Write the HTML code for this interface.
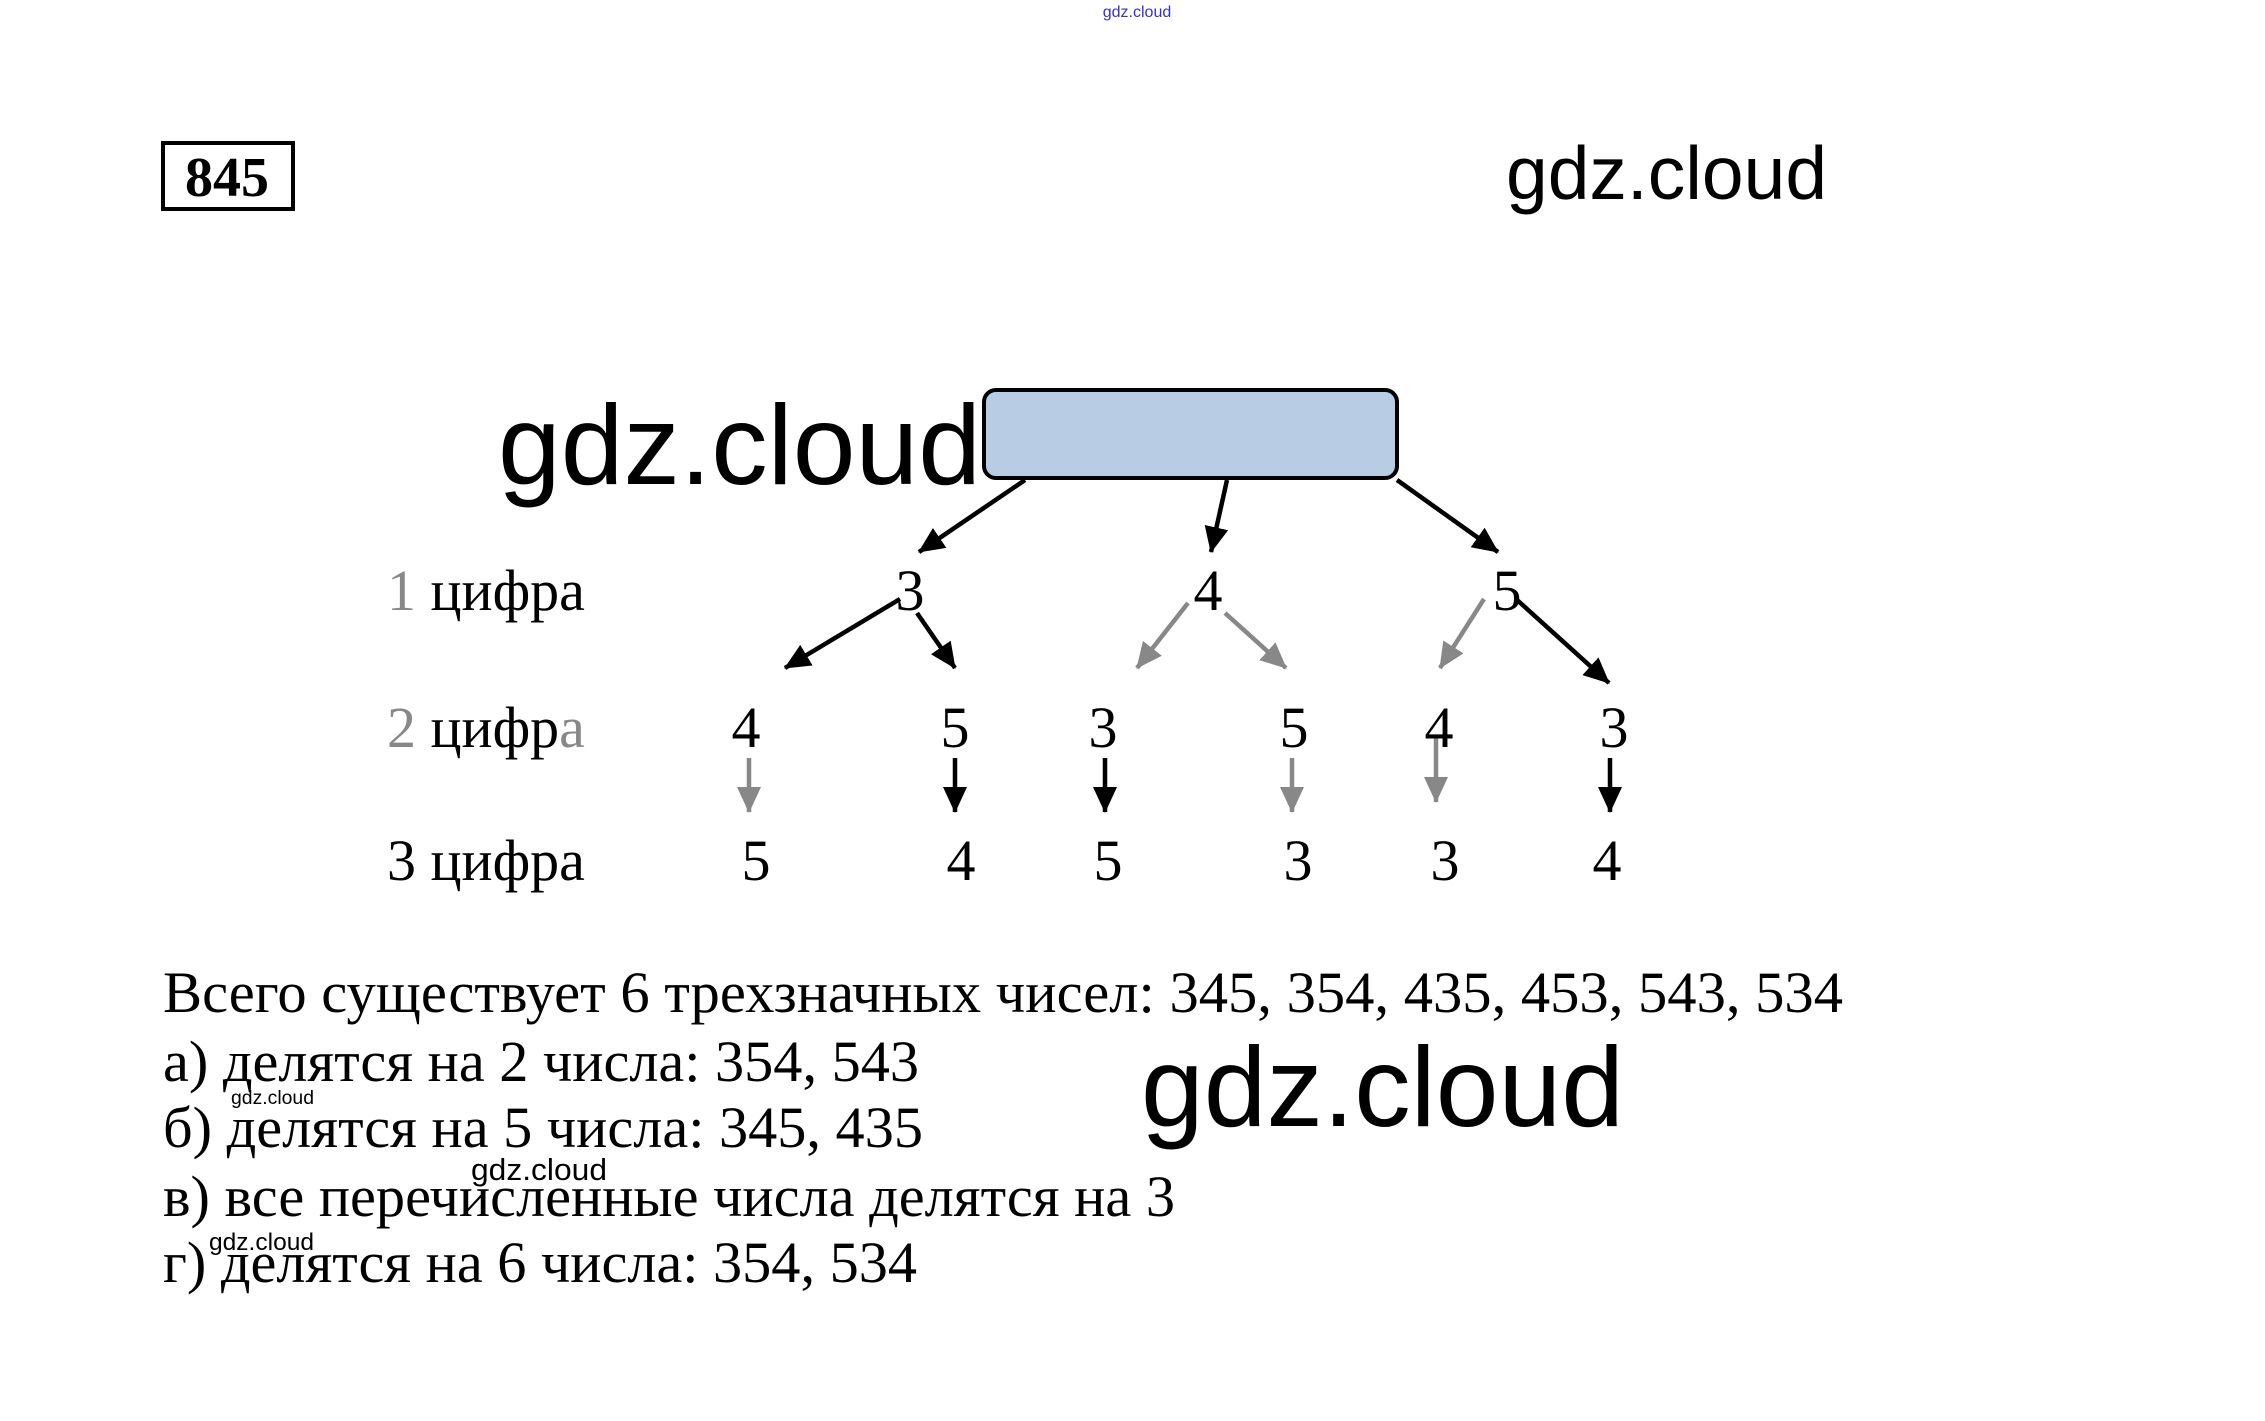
<!DOCTYPE html>
<html><head><meta charset="utf-8"><style>
html,body{margin:0;padding:0;background:#fff;}
svg{display:block;}
.s{font-family:"Liberation Serif",serif;}
.w{font-family:"Liberation Sans",sans-serif;}
</style></head><body>
<svg width="2265" height="1421" viewBox="0 0 2265 1421" xmlns="http://www.w3.org/2000/svg">
<defs>
<marker id="AB" markerWidth="26" markerHeight="24" refX="25" refY="12" orient="auto" markerUnits="userSpaceOnUse" viewBox="0 0 26 24"><path d="M0,0 L26,12 L0,24 z" fill="#000"/></marker>
<marker id="AG" markerWidth="26" markerHeight="24" refX="25" refY="12" orient="auto" markerUnits="userSpaceOnUse" viewBox="0 0 26 24"><path d="M0,0 L26,12 L0,24 z" fill="#888"/></marker>
</defs>
<text x="1137" y="17" class="w" font-size="16" fill="#3333cc" text-anchor="middle">gdz.cloud</text>
<g transform="translate(-6,-4)">
<rect x="169" y="147" width="130" height="66" fill="none" stroke="#000" stroke-width="4"/>
<text x="233" y="200" class="s" font-size="56" font-weight="bold" text-anchor="middle">845</text>
<text x="1512" y="203" class="w" font-size="75">gdz.cloud</text>
<rect x="990" y="394" width="413" height="88" rx="12" fill="#b8cce4" stroke="#000" stroke-width="4"/>
<text x="504" y="488" class="w" font-size="113" textLength="483" lengthAdjust="spacingAndGlyphs">gdz.cloud</text>
<g stroke="#000" stroke-width="4.5" fill="none">
<line x1="1031" y1="484" x2="925" y2="556" marker-end="url(#AB)"/>
<line x1="1233" y1="484" x2="1217" y2="556" marker-end="url(#AB)"/>
<line x1="1403" y1="484" x2="1504" y2="556" marker-end="url(#AB)"/>
<line x1="906" y1="603" x2="791" y2="672" marker-end="url(#AB)"/>
<line x1="923" y1="617" x2="961" y2="672" marker-end="url(#AB)"/>
<line x1="1522" y1="603" x2="1615" y2="687" marker-end="url(#AB)"/>
<line x1="1111" y1="762" x2="1111" y2="816" marker-end="url(#AB)"/>
<line x1="1616" y1="762" x2="1616" y2="816" marker-end="url(#AB)"/>
<line x1="961" y1="762" x2="961" y2="816" marker-end="url(#AB)"/>
</g>
<g stroke="#888" stroke-width="4.5" fill="none">
<line x1="1194" y1="607" x2="1143" y2="672" marker-end="url(#AG)"/>
<line x1="1231" y1="617" x2="1292" y2="672" marker-end="url(#AG)"/>
<line x1="1490" y1="603" x2="1446" y2="672" marker-end="url(#AG)"/>
<line x1="755" y1="762" x2="755" y2="816" marker-end="url(#AG)"/>
<line x1="1298" y1="762" x2="1298" y2="816" marker-end="url(#AG)"/>
<line x1="1442" y1="740" x2="1442" y2="806" marker-end="url(#AG)"/>
</g>
<g class="s" font-size="58">
<text x="393" y="614"><tspan fill="#888">1</tspan> цифра</text>
<text x="393" y="751"><tspan fill="#888">2</tspan> цифр<tspan fill="#888">а</tspan></text>
<text x="393" y="884">3 цифра</text>
<g text-anchor="middle">
<text x="916" y="614">3</text><text x="1214" y="614">4</text><text x="1513" y="614">5</text>
<text x="752" y="751">4</text><text x="961" y="751">5</text><text x="1109" y="751">3</text><text x="1300" y="751">5</text><text x="1445" y="751">4</text><text x="1620" y="751">3</text>
<text x="762" y="884">5</text><text x="967" y="884">4</text><text x="1114" y="884">5</text><text x="1304" y="884">3</text><text x="1451" y="884">3</text><text x="1613" y="884">4</text>
</g>
</g>
<g class="s" font-size="58">
<text x="169" y="1016" textLength="1680" lengthAdjust="spacingAndGlyphs">Всего существует 6 трехзначных чисел: 345, 354, 435, 453, 543, 534</text>
<text x="169" y="1085" textLength="756" lengthAdjust="spacingAndGlyphs">а) делятся на 2 числа: 354, 543</text>
<text x="169" y="1151" textLength="760" lengthAdjust="spacingAndGlyphs">б) делятся на 5 числа: 345, 435</text>
<text x="169" y="1220" textLength="1012" lengthAdjust="spacingAndGlyphs">в) все перечисленные числа делятся на 3</text>
<text x="169" y="1286" textLength="754" lengthAdjust="spacingAndGlyphs">г) делятся на 6 числа: 354, 534</text>
</g>
<text x="1147" y="1130" class="w" font-size="113" textLength="483" lengthAdjust="spacingAndGlyphs">gdz.cloud</text>
<text x="237" y="1108" class="w" font-size="19" textLength="83" lengthAdjust="spacingAndGlyphs">gdz.cloud</text>
<text x="477" y="1184" class="w" font-size="31" textLength="136" lengthAdjust="spacingAndGlyphs">gdz.cloud</text>
<text x="215" y="1254" class="w" font-size="24" textLength="105" lengthAdjust="spacingAndGlyphs">gdz.cloud</text>
</g>
</svg>
</body></html>
